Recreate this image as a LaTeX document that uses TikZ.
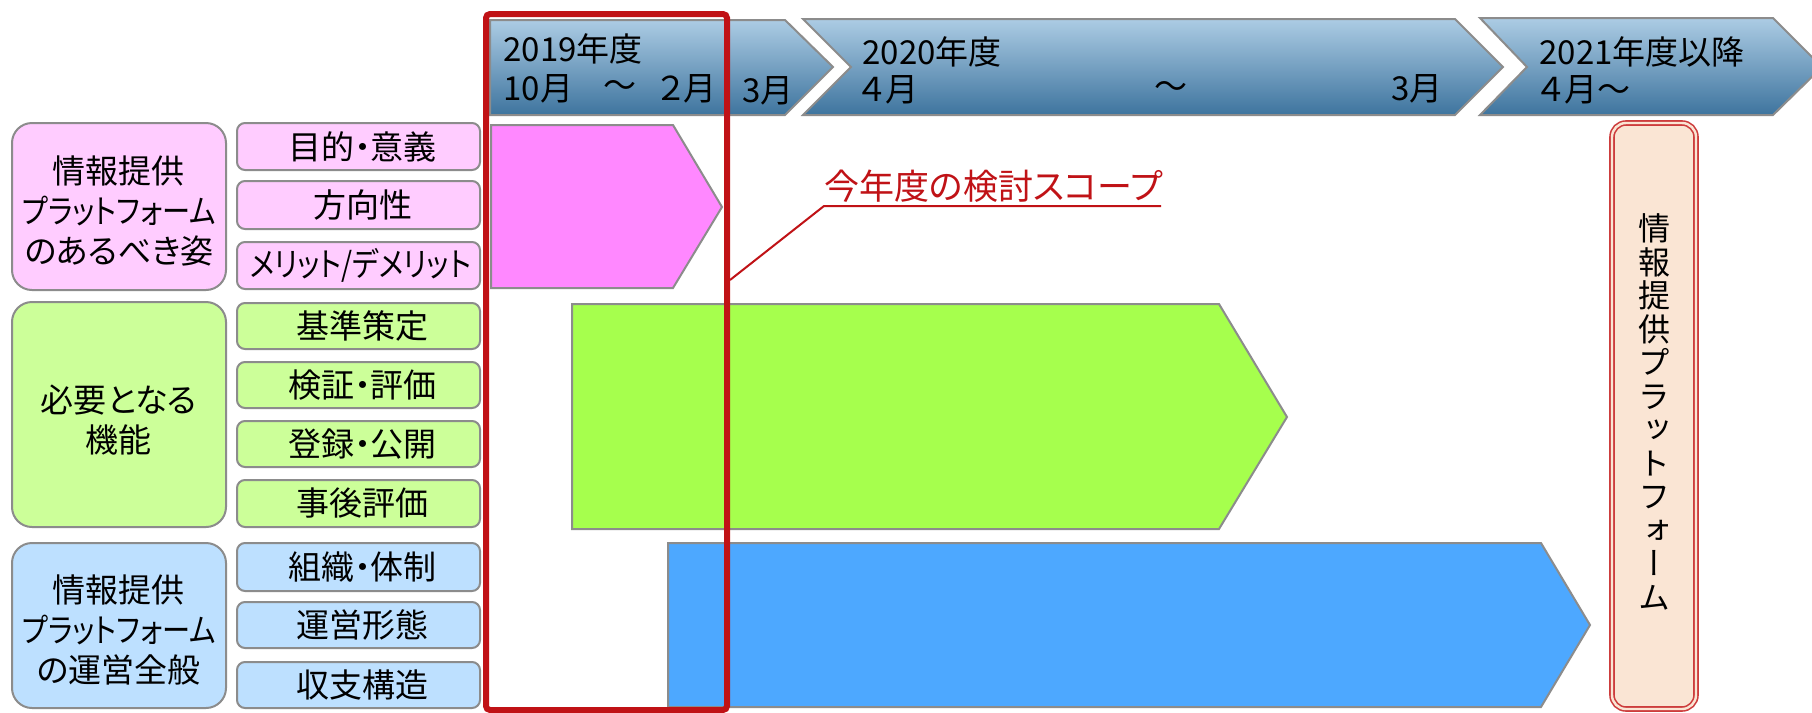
\documentclass[tikz,border=0pt]{standalone}
\usepackage{fontspec}
\setmainfont[RawFeature=+palt]{Noto Sans CJK JP}
\newfontfamily\vfont[RawFeature=+vert]{Noto Sans CJK JP}
\usetikzlibrary{fit}
\definecolor{bordergray}{RGB}{140,140,140}
\definecolor{pinkbox}{RGB}{255,204,255}
\definecolor{pinkbar}{RGB}{255,136,255}
\definecolor{greenbox}{RGB}{204,255,153}
\definecolor{greenbar}{RGB}{166,255,77}
\definecolor{bluebox}{RGB}{189,224,255}
\definecolor{bluebar}{RGB}{77,168,255}
\definecolor{hdrtop}{RGB}{172,204,228}
\definecolor{hdrbot}{RGB}{62,116,158}
\definecolor{scopered}{RGB}{192,18,22}
\definecolor{peach}{RGB}{250,229,212}
\definecolor{boxred}{RGB}{205,60,60}
\newcommand{\kana}[1]{\scalebox{0.855}[1]{#1}}
\tikzset{
  bigbox/.style={draw=bordergray, line width=1pt, rounded corners=10pt, inner sep=0pt},
  smallbox/.style={draw=bordergray, line width=1pt, rounded corners=4pt, inner sep=0pt},
  boxtext/.style={inner sep=0pt, align=center, font=\fontsize{16.5}{20}\selectfont},
  bar/.style={draw=bordergray, line width=1pt},
  hdr/.style={draw=bordergray, line width=1pt, top color=hdrtop, bottom color=hdrbot},
  hdrtext/.style={anchor=west, inner sep=0pt, font=\fontsize{16.5}{20}\selectfont},
  leader/.style={draw=scopered, line width=1pt}
}
\begin{document}
\begin{tikzpicture}[x=0.5pt,y=-0.5pt]
\clip (0,0) rectangle (1812,713);
\fill[white] (0,0) rectangle (1812,713);
% header chevrons
\path[hdr] (490,20) -- (785,20) -- (833,67) -- (785,115) -- (490,115) -- cycle;
\path[hdr] (803,19) -- (1455,19) -- (1503,67) -- (1455,115) -- (803,115) -- (851,67) -- cycle;
\path[hdr] (1480,18) -- (1773,18) -- (1822,67) -- (1773,115) -- (1480,115) -- (1527,67) -- cycle;
\node[hdrtext] (y19) at (503,49) {2019年度};
\node[hdrtext] (m10) at (503,89) {10月};
\node[hdrtext, anchor=center] (t19) at (620,89) {～};
\node[hdrtext] (m2) at (658,89) {２月};
\node[hdrtext] (m3a) at (742,91) {3月};
\node[hdrtext] (y20) at (862,52) {2020年度};
\node[hdrtext] (m4a) at (860,90) {４月};
\node[hdrtext, anchor=center] (t20) at (1171,90) {～};
\node[hdrtext] (m3b) at (1391,89) {3月};
\node[hdrtext] (y21) at (1539,52) {2021年度以降};
\node[hdrtext] (m4b) at (1539,90) {４月～};
% bars
\path[bar, fill=pinkbar] (491,125) -- (673,125) -- (722,207) -- (673,288) -- (491,288) -- cycle;
\path[bar, fill=greenbar] (572,304) -- (1219,304) -- (1287,417) -- (1219,529) -- (572,529) -- cycle;
\path[bar, fill=bluebar] (668,543) -- (1541,543) -- (1590,625) -- (1541,707) -- (668,707) -- cycle;
% left big boxes
\node[bigbox, fill=pinkbox, fit={(12,123) (226,290)}] (g1) {};
\node[bigbox, fill=greenbox, fit={(12,302) (226,527)}] (g2) {};
\node[bigbox, fill=bluebox, fit={(12,543) (226,708)}] (g3) {};
\node[boxtext] (g1t) at ([yshift=-2pt]g1.center) {情報提供\\\kana{プラットフォーム}\\のあるべき姿};
\node[boxtext] (g2t) at ([yshift=-3pt]g2.center) {必要となる\\機能};
\node[boxtext] (g3t) at ([yshift=-2pt]g3.center) {情報提供\\\kana{プラットフォーム}\\の運営全般};
% small boxes
\node[smallbox, fill=pinkbox, fit={(237,123) (480,170)}] (s11) {};
\node[smallbox, fill=pinkbox, fit={(237,181) (480,229)}] (s12) {};
\node[smallbox, fill=pinkbox, fit={(237,242) (480,289)}] (s13) {};
\node[smallbox, fill=greenbox, fit={(237,303) (480,349)}] (s21) {};
\node[smallbox, fill=greenbox, fit={(237,362) (480,408)}] (s22) {};
\node[smallbox, fill=greenbox, fit={(237,421) (480,467)}] (s23) {};
\node[smallbox, fill=greenbox, fit={(237,480) (480,527)}] (s24) {};
\node[smallbox, fill=bluebox, fit={(237,543) (480,591)}] (s31) {};
\node[smallbox, fill=bluebox, fit={(237,602) (480,648)}] (s32) {};
\node[smallbox, fill=bluebox, fit={(237,662) (480,708)}] (s33) {};
\node[boxtext] (s11t) at ([xshift=2pt]s11.center) {目的・意義};
\node[boxtext] (s12t) at ([xshift=2pt]s12.center) {方向性};
\node[boxtext] (s13t) at ([xshift=1pt]s13.center) {\kana{メリット/デメリット}};
\node[boxtext] (s21t) at ([xshift=2pt]s21.center) {基準策定};
\node[boxtext] (s22t) at ([xshift=2pt]s22.center) {検証・評価};
\node[boxtext] (s23t) at ([xshift=2pt]s23.center) {登録・公開};
\node[boxtext] (s24t) at ([xshift=2pt]s24.center) {事後評価};
\node[boxtext] (s31t) at ([xshift=2pt]s31.center) {組織・体制};
\node[boxtext] (s32t) at ([xshift=2pt]s32.center) {運営形態};
\node[boxtext] (s33t) at ([xshift=2pt]s33.center) {収支構造};
% right platform box
\node[draw=boxred, double=peach, double distance=1.2pt, line width=0.8pt, fill=peach, rounded corners=7pt, inner sep=0pt, fit={(1612,123) (1696,709)}] (plat) {};
\node[font=\vfont\fontsize{16}{16.75}\selectfont, align=center, inner sep=0pt] (platt) at ([yshift=2pt]plat.center) {情\\報\\提\\供\\プ\\ラ\\ッ\\ト\\フ\\ォ\\ー\\ム};
% scope
\node[draw=scopered, line width=3pt, rounded corners=2pt, inner sep=0pt, fit={(486,14) (727,710)}] (scopebox) {};
\node[anchor=south west, inner sep=0pt, text=scopered, font=\fontsize{17.5}{20}\selectfont] (scope) at (824,203) {今年度の検討スコープ};
\coordinate (leadA) at (730,280);
\coordinate (ulL) at (824,206);
\coordinate (ulR) at (1161,206);
\draw[leader] (leadA) -- (ulL) -- (ulR);
\end{tikzpicture}
\end{document}
